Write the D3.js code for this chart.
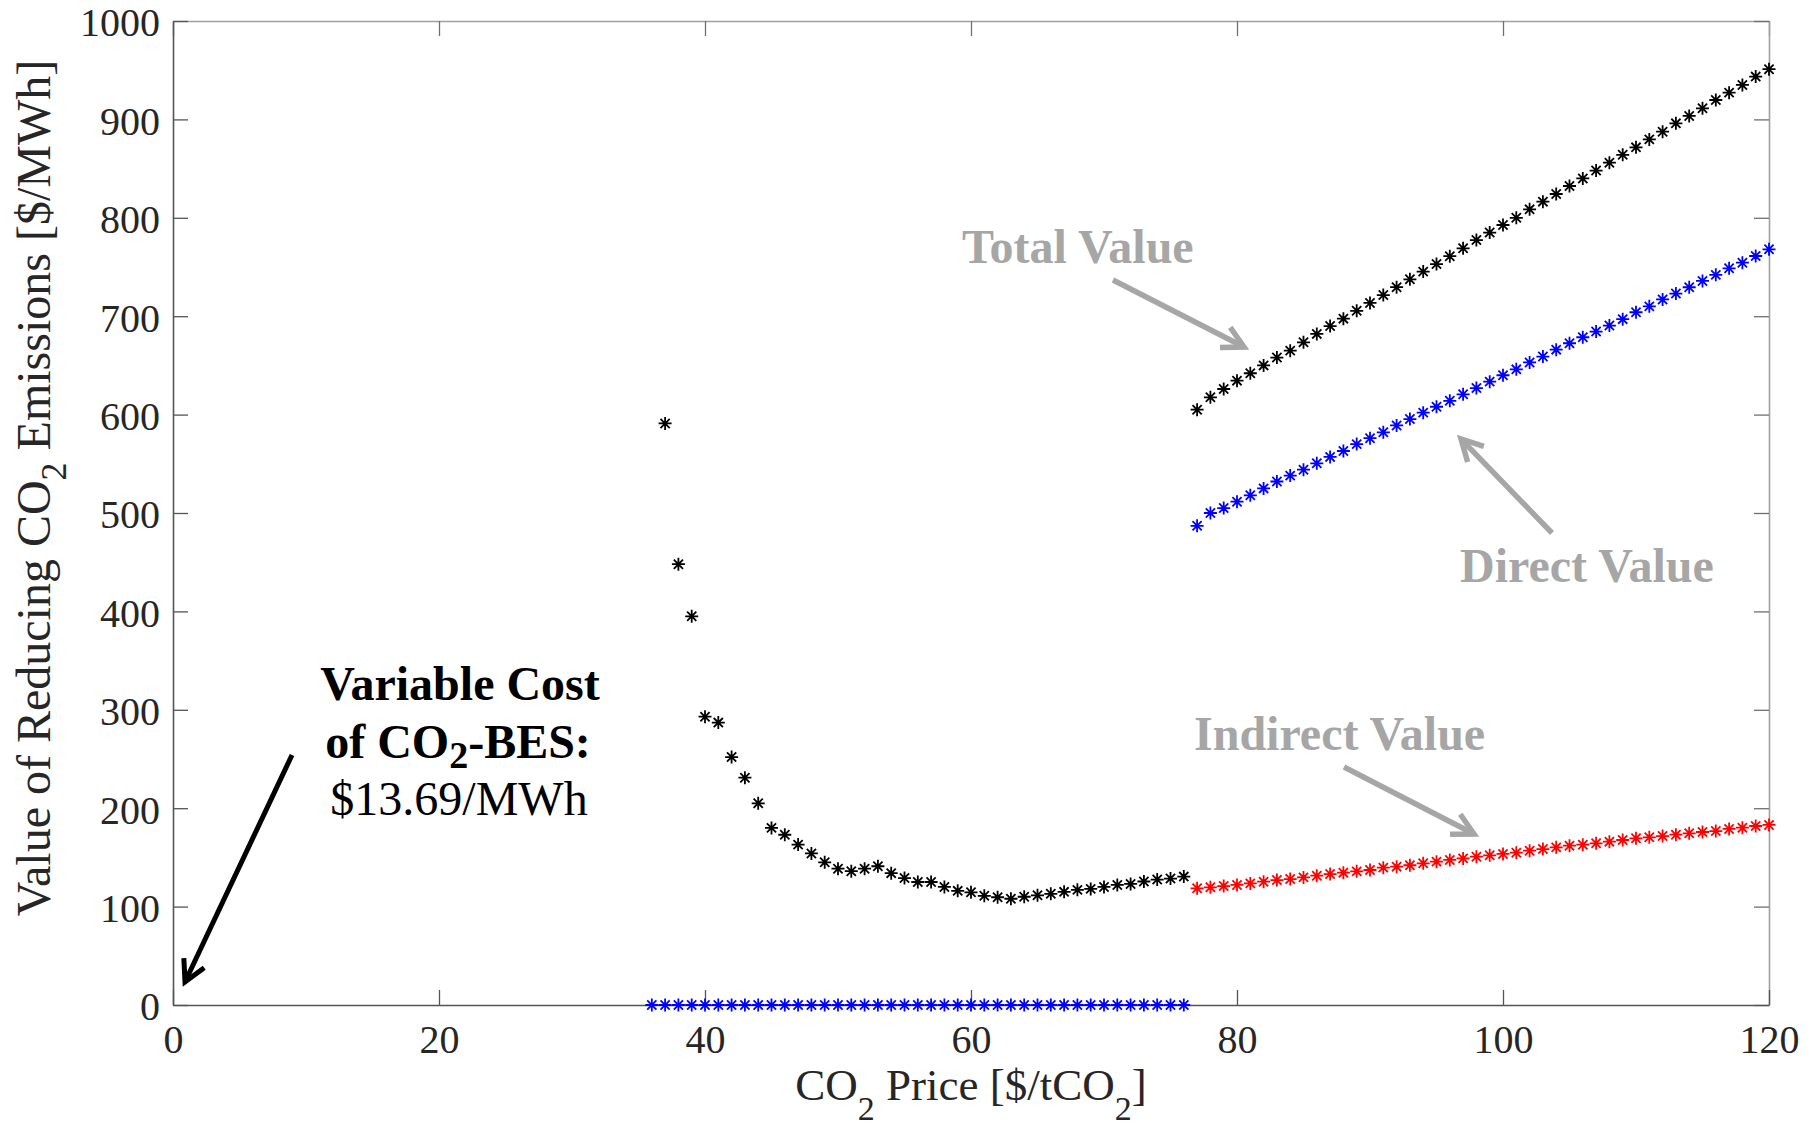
<!DOCTYPE html>
<html>
<head>
<meta charset="utf-8">
<script src="https://cdn.jsdelivr.net/npm/d3@7"></script>
<style>
  html, body { margin: 0; padding: 0; background: #fff; }
  svg { display: block; }
  text { font-family: "Liberation Serif", "Times New Roman", serif; }
</style>
</head>
<body>
<svg id="chart" width="1818" height="1131"></svg>
<script>
// ---------------- DATA ----------------
const xTicks = [0, 20, 40, 60, 80, 100, 120];
const yTicks = [0, 100, 200, 300, 400, 500, 600, 700, 800, 900, 1000];

// CO2 price where the direct value is zero
const priceZero = [36,37,38,39,40,41,42,43,44,45,46,47,48,49,50,51,52,53,54,55,56,
                   57,58,59,60,61,62,63,64,65,66,67,68,69,70,71,72,73,74,75,76];
const directZero = [0,0,0,0,0,0,0,0,0,0,0,0,0,0,0,0,0,0,0,0,0,
                    0,0,0,0,0,0,0,0,0,0,0,0,0,0,0,0,0,0,0,0];

// Total value, low-price regime
const priceLow = [37,38,39,40,41,42,43,44,45,46,47,48,49,50,51,52,53,54,55,56,
                  57,58,59,60,61,62,63,64,65,66,67,68,69,70,71,72,73,74,75,76];
const totalLow = [591,448,395,293,287,252,231,205,180,173,163,154,145,138.5,136,138.5,141,134,129,125,
                  125,120,116,114.5,111,109.5,108,110,111.5,113,115,117,118,120,122,123,125.5,127.5,128.5,130.5];

// High-price regime
const priceHigh = [77,78,79,80,81,82,83,84,85,86,87,88,89,90,91,92,93,94,95,96,97,98,
                   99,100,101,102,103,104,105,106,107,108,109,110,111,112,113,114,115,116,117,118,119,120];
const totalHigh = [605,617.6,626,634.5,642,650,658,665,673.5,682,690,697.5,705.5,713.5,721.5,729.5,737.5,745.3,753,761,769,777.4,
                   785,792.7,800,808.6,816.4,824.2,832.3,840,848,856,864,871.6,879.7,887.5,896,903.5,911.3,919.7,927.2,935,943.5,951];
const directHigh = [487,500,505,511.5,518,525,532,538,544,550.5,557,563,570,576,582,589,595.5,602,608,614,620.6,627,
                    633.5,640,646,653,659,666,672.5,678.6,684.4,690.5,697,704,710,717,723,729.4,735.8,742,748.7,754.4,761.2,768];
const indirectHigh = [118.6,119.6,120.9,122,123.6,125.3,127,128,129.7,131.4,133.1,134.5,135.8,137.2,139.6,140.6,142,144,145.7,147.4,149,150.7,
                      152.1,153.5,154.8,156.8,158.5,160.2,161.9,162.9,164.3,166,167.7,169.4,170.4,171.7,173.1,174.5,175.8,176.8,178.9,180.2,181.9,183];

// ---------------- LAYOUT ----------------
const svg = d3.select("#chart");
const L = 173, R = 1769, T = 21, B = 1005;
const x = d3.scaleLinear().domain([0, 120]).range([L, R]);
const y = d3.scaleLinear().domain([0, 1000]).range([B, T]);

const TICK_FONT = 40;
const tickColor = "#262626";

// top & right (light box)
const gTop = svg.append("g").attr("transform", `translate(0,${T})`)
  .call(d3.axisTop(x).tickValues(xTicks).tickSizeInner(-15).tickSizeOuter(0).tickFormat(""));
const gRight = svg.append("g").attr("transform", `translate(${R},0)`)
  .call(d3.axisRight(y).tickValues(yTicks).tickSizeInner(-15).tickSizeOuter(0).tickFormat(""));
[gTop, gRight].forEach(g => {
  g.select(".domain").attr("stroke", "#a0a0a0").attr("stroke-width", 1.6);
  g.selectAll(".tick line").attr("stroke", "#707070").attr("stroke-width", 1.3);
});

// bottom & left
const gX = svg.append("g").attr("transform", `translate(0,${B})`)
  .call(d3.axisBottom(x).tickValues(xTicks).tickFormat(d3.format("d"))
    .tickSizeInner(-15).tickSizeOuter(0).tickPadding(20));
const gY = svg.append("g").attr("transform", `translate(${L},0)`)
  .call(d3.axisLeft(y).tickValues(yTicks).tickFormat(d3.format("d"))
    .tickSizeInner(-15).tickSizeOuter(0).tickPadding(13));
gY.selectAll(".tick text").attr("dy", "0.37em");
[gX, gY].forEach(g => {
  g.select(".domain").attr("stroke", "#555").attr("stroke-width", 1.6);
  g.selectAll(".tick line").attr("stroke", "#555").attr("stroke-width", 1.3);
  g.selectAll(".tick text").attr("fill", tickColor)
    .style("font-family", '"Liberation Serif", "Times New Roman", serif')
    .style("font-size", TICK_FONT + "px");
});

// axis labels
const xl = svg.append("text")
  .attr("x", (L + R) / 2).attr("y", 1100)
  .attr("text-anchor", "middle").attr("fill", tickColor)
  .style("font-size", "45px");
xl.append("tspan").text("CO");
xl.append("tspan").text("2").attr("dy", 20).style("font-size", "34px");
xl.append("tspan").text(" Price [$/tCO").attr("dy", -20);
xl.append("tspan").text("2").attr("dy", 20).style("font-size", "34px");
xl.append("tspan").text("]").attr("dy", -20);

const yl = svg.append("text")
  .attr("transform", "translate(50,488) rotate(-90)")
  .attr("text-anchor", "middle").attr("fill", tickColor)
  .style("font-size", "48px");
yl.append("tspan").text("Value of Reducing CO");
yl.append("tspan").text("2").attr("dy", 16).style("font-size", "36px");
yl.append("tspan").text(" Emissions [$/MWh]").attr("dy", -16);

// ---------------- MARKERS ----------------
const asterisk = {
  draw(ctx, size) {
    const r = Math.sqrt(size) / 2;
    const d = r * Math.SQRT1_2;
    ctx.moveTo(-r, 0); ctx.lineTo(r, 0);
    ctx.moveTo(0, -r); ctx.lineTo(0, r);
    ctx.moveTo(-d, -d); ctx.lineTo(d, d);
    ctx.moveTo(-d, d); ctx.lineTo(d, -d);
  }
};
const sym = d3.symbol().type(asterisk).size(13 * 13);

function series(xs, ys, color) {
  svg.append("g")
    .selectAll("path")
    .data(xs.map((v, i) => [v, ys[i]]))
    .join("path")
    .attr("d", sym)
    .attr("transform", d => `translate(${x(d[0])},${y(d[1])})`)
    .attr("fill", "none")
    .attr("stroke", color)
    .attr("stroke-width", 1.8);
}
series(priceZero, directZero, "#0000ff");
series(priceLow, totalLow, "#000000");
series(priceHigh, totalHigh, "#000000");
series(priceHigh, directHigh, "#0000ff");
series(priceHigh, indirectHigh, "#ff0000");

// ---------------- ANNOTATIONS ----------------
const GRAY = "#a6a6a6";
function arrow(x1, y1, x2, y2, color, w) {
  const ang = Math.atan2(y2 - y1, x2 - x1);
  const len = 24, spread = 28 * Math.PI / 180;
  const g = svg.append("g").attr("fill", "none").attr("stroke", color)
    .attr("stroke-width", w).attr("stroke-linecap", "butt").attr("stroke-linejoin", "miter");
  g.append("line").attr("x1", x1).attr("y1", y1)
    .attr("x2", x2 - Math.cos(ang) * w * 0.6).attr("y2", y2 - Math.sin(ang) * w * 0.6);
  const p1 = [x2 - len * Math.cos(ang - spread), y2 - len * Math.sin(ang - spread)];
  const p2 = [x2 - len * Math.cos(ang + spread), y2 - len * Math.sin(ang + spread)];
  g.append("path").attr("d", `M${p1[0]},${p1[1]} L${x2},${y2} L${p2[0]},${p2[1]}`);
}
arrow(1113, 280, 1244, 347, GRAY, 5.5);
arrow(1552, 533, 1461, 439, GRAY, 5.5);
arrow(1344, 767, 1474, 834, GRAY, 5.5);
arrow(292, 755, 185, 982, "#000", 5);

const ANN_FONT = 48;
function label(txt, xx, yy, anchor, color, weight) {
  return svg.append("text").attr("x", xx).attr("y", yy)
    .attr("text-anchor", anchor).attr("fill", color)
    .style("font-size", ANN_FONT + "px").style("font-weight", weight).text(txt);
}
label("Total Value", 962, 263, "start", GRAY, "bold");
label("Direct Value", 1460, 582, "start", GRAY, "bold");
label("Indirect Value", 1194, 750, "start", GRAY, "bold");
label("Variable Cost", 460, 700, "middle", "#000", "bold");
const of = svg.append("text").attr("x", 458).attr("y", 758)
  .attr("text-anchor", "middle").attr("fill", "#000")
  .style("font-size", ANN_FONT + "px").style("font-weight", "bold");
of.append("tspan").text("of CO");
of.append("tspan").text("2").attr("dy", 10).style("font-size", "38px");
of.append("tspan").text("-BES:").attr("dy", -10);
label("$13.69/MWh", 459, 815, "middle", "#000", "normal");
</script>
</body>
</html>
